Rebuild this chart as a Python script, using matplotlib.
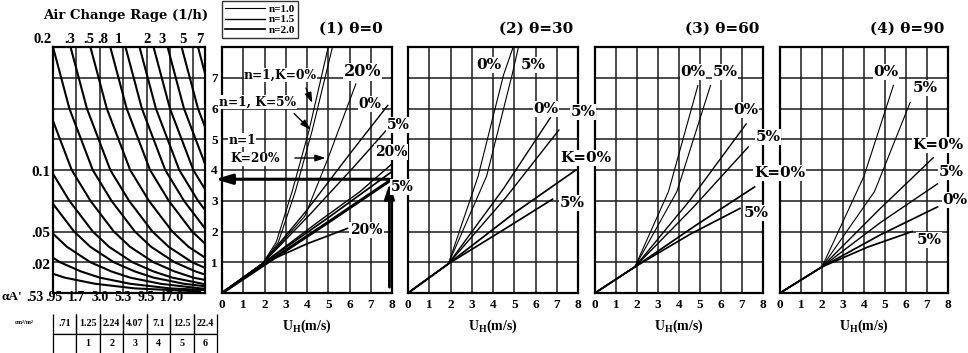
import matplotlib
matplotlib.use('Agg')
import matplotlib.pyplot as plt
from matplotlib.lines import Line2D

plt.rcParams['font.family'] = ['DejaVu Serif', 'DejaVu Sans']
plt.rcParams['font.weight'] = 'bold'
plt.rcParams['mathtext.default'] = 'regular'

# ------------------------------------------------------------------ data
# Left nomogram: x position (grid cells of alpha*A') of each air-change curve at the given pressure levels
NOMO_Y = [8, 6, 4, 3, 2, 1.5, 1, 0.7, 0.5, 0.3, 0.15, 0.05]
NOMO_CURVES = [
    [-6.4, -5.7, -4.7, -3.9, -2.9, -2.2, -1.2, -0.3, 0.5, 1.8, 3.5, 6.3],
    [-4.9, -4.2, -3.2, -2.4, -1.4, -0.7, 0.3, 1.2, 2.0, 3.3, 5.0, 7.8],
    [-3.6, -2.9, -1.9, -1.1, -0.1, 0.6, 1.6, 2.5, 3.3, 4.6, 6.3, 9.1],
    [-2.6, -1.9, -0.9, -0.1, 0.9, 1.6, 2.6, 3.5, 4.3, 5.6, 7.3, 10.1],
    [-1.8, -1.1, -0.1, 0.7, 1.7, 2.4, 3.4, 4.3, 5.1, 6.4, 8.1, 10.9],
    [-0.9, -0.2, 0.8, 1.6, 2.6, 3.3, 4.3, 5.2, 6.0, 7.3, 9.0, 11.8],
    [0.0, 0.7, 1.7, 2.5, 3.5, 4.2, 5.2, 6.1, 6.9, 8.2, 9.9, 12.7],
    [0.75, 1.45, 2.45, 3.25, 4.25, 4.95, 5.95, 6.85, 7.65, 8.95, 10.65, 13.45],
    [1.6, 2.3, 3.3, 4.1, 5.1, 5.8, 6.8, 7.7, 8.5, 9.8, 11.5, 14.3],
    [2.45, 3.15, 4.15, 4.95, 5.95, 6.65, 7.65, 8.55, 9.35, 10.65, 12.35, 15.15],
    [3.1, 3.8, 4.8, 5.6, 6.6, 7.3, 8.3, 9.2, 10.0, 11.3, 13.0, 15.8],
    [3.7, 4.4, 5.4, 6.2, 7.2, 7.9, 8.9, 9.8, 10.6, 11.9, 13.6, 16.4],
    [4.3, 5.0, 6.0, 6.8, 7.8, 8.5, 9.5, 10.4, 11.2, 12.5, 14.2, 17.0],
    [4.9, 5.6, 6.6, 7.4, 8.4, 9.1, 10.1, 11.0, 11.8, 13.1, 14.8, 17.6],
    [5.5, 6.2, 7.2, 8.0, 9.0, 9.7, 10.7, 11.6, 12.4, 13.7, 15.4, 18.2],
    [6.2, 6.9, 7.9, 8.7, 9.7, 10.4, 11.4, 12.3, 13.1, 14.4, 16.1, 18.9],
]
AIR_CHANGE_LABELS = ['0.2', '.3', '.5', '.8', '1', '2', '3', '5', '7']
AREA_LABELS = ['.53', '.95', '1.7', '3.0', '5.3', '9.5', '17.0']
PRESSURE_LABELS = ['0.1', '.05', '.02']
LEAK_ROW = ['.71', '1.25', '2.24', '4.07', '7.1', '12.5', '22.4']
CLASS_ROW = ['', '1', '2', '3', '4', '5', '6']

PANEL_TITLES = ['(1) θ=0', '(2) θ=30', '(3) θ=60', '(4) θ=90']
X_TICKS = [0, 1, 2, 3, 4, 5, 6, 7, 8]
Y_TICKS = [1, 2, 3, 4, 5, 6, 7]
N_VALUES = ['1.0', '1.5', '2.0']

# (n, K, x values, y values) for each panel
P1_LINES = [
    ('1.0', '0%', [0, 1.9, 2.55, 3.3, 4.1, 5.0], [0, 0.95, 1.65, 3.3, 5.3, 8.0]),
    ('1.0', '5%', [0, 1.9, 2.65, 3.45, 4.25, 5.2], [0, 0.95, 1.65, 3.3, 5.3, 8.0]),
    ('1.0', '20%', [0, 1.9, 3.9, 5.0, 6.3], [0, 0.95, 2.5, 4.4, 6.8]),
    ('1.5', '0%', [0, 1.9, 4.0, 6.1, 7.8], [0, 0.95, 2.7, 4.6, 6.1]),
    ('1.5', '5%', [0, 1.9, 4.2, 6.2, 8.0], [0, 0.95, 2.6, 4.1, 5.5]),
    ('1.5', '20%', [0, 1.9, 4.5, 6.5, 8.0], [0, 0.95, 2.3, 3.3, 4.2]),
    ('2.0', '0%', [0, 1.9, 5.0, 8.0], [0, 0.95, 2.45, 3.95]),
    ('2.0', '20%', [0, 1.9, 4.0, 5.9], [0, 0.95, 1.6, 2.1]),
]
P1_HIGHLIGHT_X = [0, 1.9, 5.0, 8.0]
P1_HIGHLIGHT_Y = [0, 0.88, 2.3, 3.7]

P2_LINES = [
    ('1.0', '0%', [0, 1.9, 3.3, 4.5, 4.95], [0, 0.95, 3.8, 7.1, 8.0]),
    ('1.0', '5%', [0, 1.9, 3.7, 4.9, 5.2], [0, 0.95, 3.8, 7.1, 8.0]),
    ('1.5', '0%', [0, 1.9, 4.5, 6.7], [0, 0.95, 3.4, 5.7]),
    ('1.5', '5%', [0, 1.9, 4.6, 7.1], [0, 0.95, 3.1, 5.3]),
    ('2.0', '0%', [0, 1.9, 5.0, 7.9], [0, 0.95, 2.6, 4.0]),
    ('2.0', '5%', [0, 1.9, 4.6, 6.8], [0, 0.95, 2.1, 3.05]),
]
P3_LINES = [
    ('1.0', '0%', [0, 1.9, 3.5, 4.9], [0, 0.85, 3.3, 6.75]),
    ('1.0', '5%', [0, 1.9, 3.9, 5.5], [0, 0.85, 3.3, 6.75]),
    ('1.5', '0%', [0, 1.9, 4.5, 7.2], [0, 0.85, 3.0, 5.5]),
    ('1.5', '5%', [0, 1.9, 4.7, 7.3], [0, 0.85, 2.8, 4.75]),
    ('2.0', '0%', [0, 1.9, 4.8, 7.6], [0, 0.85, 2.2, 3.45]),
    ('2.0', '5%', [0, 1.9, 4.5, 6.9], [0, 0.85, 1.9, 2.75]),
]
P4_LINES = [
    ('1.0', '0%', [0, 2.0, 4.0, 5.4], [0, 0.85, 3.8, 6.75]),
    ('1.0', '5%', [0, 2.0, 4.5, 6.2], [0, 0.85, 3.3, 6.2]),
    ('1.5', '0%', [0, 2.0, 4.7, 7.3], [0, 0.85, 2.7, 4.4]),
    ('1.5', '5%', [0, 2.0, 4.8, 7.5], [0, 0.85, 2.3, 3.55]),
    ('2.0', '0%', [0, 2.0, 4.8, 7.5], [0, 0.85, 1.9, 2.8]),
    ('2.0', '5%', [0, 2.0, 4.2, 6.3], [0, 0.85, 1.5, 2.0]),
]
PANEL_LINES = [P1_LINES, P2_LINES, P3_LINES, P4_LINES]

# ------------------------------------------------------------------ layout / style
W, H = 968, 353
fig = plt.figure(figsize=(W / 100, H / 100), dpi=100)


def fx(px):
    return px / W


def fy(py):
    return 1 - py / H


TOP_PX, BOT_PX = 47, 293
GRID_KW = dict(color='#1a1a1a', lw=1.1)
N_LW = {'1.0': 0.8, '1.5': 1.0, '2.0': 1.25}
SERIF_T = ['Liberation Serif', 'DejaVu Serif']

# left nomogram panel
ax0 = fig.add_axes([fx(53), fy(BOT_PX), fx(205) - fx(53), (BOT_PX - TOP_PX) / H])
ax0.set_xlim(0, 6.5)
ax0.set_ylim(0, 8)
ax0.set_xticks([1, 2, 3, 4, 5, 6])
ax0.set_yticks(Y_TICKS)
ax0.grid(True, **GRID_KW)
ax0.tick_params(length=0, labelbottom=False, labelleft=False)
for s in ax0.spines.values():
    s.set_linewidth(1.6)
for xs in NOMO_CURVES:
    ax0.plot(xs, NOMO_Y, color='black', lw=1.5, solid_capstyle='round')

air_pos = [-0.43, 0.73, 1.54, 2.14, 2.78, 4.02, 4.66, 5.56, 6.28]
for lab, p in zip(AIR_CHANGE_LABELS, air_pos):
    ax0.text(p, 8.23, lab, ha='center', va='center', fontsize=10.5,
             family=SERIF_T, weight='bold', clip_on=False)
area_pos = [-0.75, 0.05, 1, 2, 3, 4, 5.1]
for lab, p in zip(AREA_LABELS, area_pos):
    ax0.text(p, -0.15, lab, ha='center', va='center', fontsize=10,
             family=SERIF_T, weight='bold', clip_on=False)
fig.text(fx(12), fy(297), "αA'", ha='center', va='center', fontsize=9.5,
         family=SERIF_T, weight='bold')
for lab, p in zip(PRESSURE_LABELS, [3.93, 1.95, 0.91]):
    ax0.text(-0.1, p, lab, ha='right', va='center', fontsize=11,
             family=SERIF_T, weight='bold', clip_on=False)
fig.text(fx(126), fy(15), 'Air Change Rage (1/h)', ha='center', va='center',
         fontsize=9.5, weight='bold')

# table under the nomogram
tab_ax = fig.add_axes([fx(53), 0, fx(217) - fx(53), (H - 314) / H])
tab_ax.axis('off')
tbl = tab_ax.table(cellText=[LEAK_ROW, CLASS_ROW], bbox=[0, 0, 1, 1], cellLoc='center')
tbl.auto_set_font_size(False)
tbl.set_fontsize(7.2)
for (r, c), cell in tbl.get_celld().items():
    cell.set_linewidth(0.9)
    cell.visible_edges = 'LRB' if r == 0 else 'LRT'
    cell.get_text().set_fontweight('bold')
    cell.get_text().set_fontfamily(SERIF_T)
fig.text(fx(24), fy(322), 'cm²/m²', ha='center', va='center', fontsize=4.5,
         family=SERIF_T, weight='bold')

# right panels
panel_px = [(222, 392), (408, 578), (595, 763), (780, 948)]
title_px = [351, 536, 722, 907]
axes = []
for i, (l, r) in enumerate(panel_px):
    ax = fig.add_axes([fx(l), fy(BOT_PX), fx(r) - fx(l), (BOT_PX - TOP_PX) / H])
    ax.set_xlim(0, 8)
    ax.set_ylim(0, 8)
    ax.set_xticks(X_TICKS)
    ax.set_yticks(Y_TICKS)
    ax.grid(True, **GRID_KW)
    ax.tick_params(length=0, pad=4, labelsize=9)
    ax.set_xticklabels([str(t) for t in X_TICKS], fontsize=9.5, family=SERIF_T, weight='bold')
    if i == 0:
        ax.set_yticklabels([str(t) for t in Y_TICKS], fontsize=9.5, family=SERIF_T, weight='bold')
        ax.tick_params(axis='y', pad=3)
    else:
        ax.set_yticklabels([])
    for s in ax.spines.values():
        s.set_linewidth(1.6)
    for n, k, xs, ys in PANEL_LINES[i]:
        ax.plot(xs, ys, color='black', lw=N_LW[n])
    ax.text(0.5, -0.135, 'U$_H$(m/s)', transform=ax.transAxes, ha='center', va='center',
            fontsize=10, family=SERIF_T, weight='bold')
    fig.text(fx(title_px[i]), fy(29), PANEL_TITLES[i], ha='center', va='center',
             fontsize=11, weight='bold')
    axes.append(ax)

# highlighted reading path in panel 1
ax1 = axes[0]
ax1.plot(P1_HIGHLIGHT_X, P1_HIGHLIGHT_Y, color='black', lw=2.2)
xe, ye = P1_HIGHLIGHT_X[-1], P1_HIGHLIGHT_Y[-1]
ax1.annotate('', xy=(xe - 0.12, ye - 0.05), xytext=(xe - 0.12, 0.1),
             arrowprops=dict(arrowstyle='-|>,head_length=0.9,head_width=0.3', lw=2.0, color='black'),
             annotation_clip=False)
ax1.annotate('', xy=(-0.45, ye), xytext=(xe, ye),
             arrowprops=dict(arrowstyle='-|>,head_length=1.0,head_width=0.3', lw=2.2, color='black'),
             annotation_clip=False)

# label annotations
BOX = dict(facecolor='white', edgecolor='none', pad=0.6)
panel_labels = [
    [('20%', 6.6, 7.19, 11.5), ('0%', 6.96, 6.15, 10), ('5%', 8.3, 5.46, 10),
     ('20%', 7.95, 4.59, 10), ('5%', 8.5, 3.45, 10), ('20%', 6.8, 2.05, 10)],
    [('0%', 3.81, 7.41, 11), ('5%', 5.88, 7.41, 11), ('0%', 6.5, 5.98, 11),
     ('5%', 8.24, 5.89, 11), ('K=0%', 8.38, 4.39, 11), ('5%', 7.72, 2.93, 11)],
    [('0%', 4.67, 7.19, 11), ('5%', 6.19, 7.19, 11), ('0%', 7.19, 5.95, 11),
     ('5%', 8.24, 5.07, 11), ('K=0%', 8.8, 3.9, 11), ('5%', 7.67, 2.6, 11)],
    [('0%', 5.05, 7.19, 11), ('5%', 6.9, 6.67, 11), ('K=0%', 7.52, 4.81, 11),
     ('5%', 8.14, 3.93, 11), ('0%', 8.33, 3.02, 11), ('5%', 7.1, 1.72, 11)],
]
for ax, labs in zip(axes, panel_labels):
    for s, x, y, fs in labs:
        fig.text(x, y, s, transform=ax.transData, ha='center', va='center',
                 fontsize=fs, weight='bold', bbox=BOX, zorder=10)

small = [('n=1,K=0%', 2.75, 7.09, 'center'), ('n=1, K=5%', -0.12, 6.2, 'left'),
         ('n=1', 0.3, 4.97, 'left'), ('K=20%', 0.38, 4.36, 'left')]
for s, x, y, ha in small:
    fig.text(x, y, s, transform=ax1.transData, ha=ha, va='center', fontsize=8.8,
             weight='bold', bbox=dict(facecolor='white', edgecolor='none', pad=0.3),
             zorder=10)
for (x0, y0), (x1, y1) in [((3.9, 6.75), (4.3, 6.1)), ((3.3, 5.9), (4.25, 5.25)),
                           ((3.3, 4.39), (5.0, 4.39))]:
    ax1.annotate('', xy=(x1, y1), xytext=(x0, y0),
                 arrowprops=dict(arrowstyle='-|>,head_length=0.6,head_width=0.2', lw=1.0, color='black'))

# legend for n
handles = [Line2D([], [], color='black', lw=N_LW[n]) for n in N_VALUES]
leg = fig.legend(handles, ['n=' + n for n in N_VALUES], loc='upper left',
                 bbox_to_anchor=(fx(222), fy(1)), fontsize=8, frameon=True,
                 fancybox=False, edgecolor='black', handlelength=3.6, borderpad=0.3,
                 labelspacing=0.05, handletextpad=0.3, borderaxespad=0)
leg.get_frame().set_linewidth(1.0)
for t in leg.get_texts():
    t.set_fontfamily(SERIF_T)

fig.savefig('out.png', dpi=100, facecolor='white')
